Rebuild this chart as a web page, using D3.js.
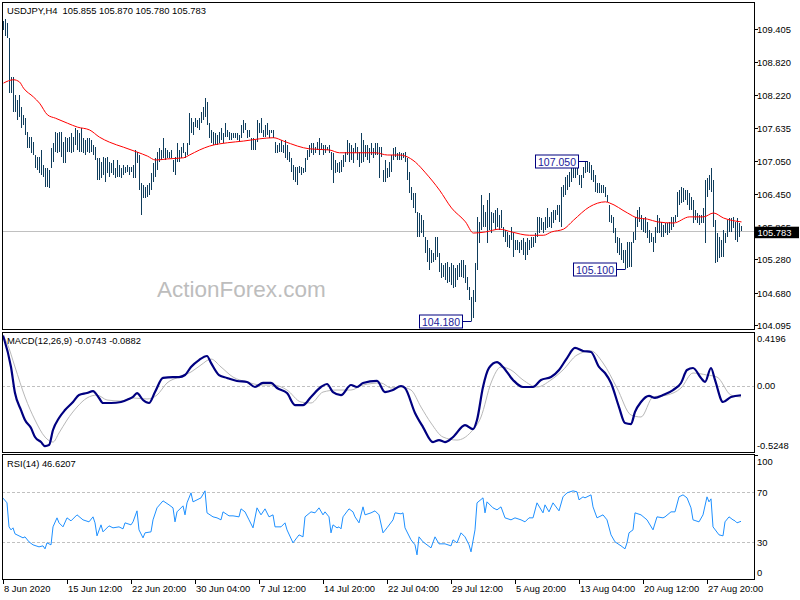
<!DOCTYPE html>
<html><head><meta charset="utf-8">
<script src="https://cdn.jsdelivr.net/npm/d3@7"></script>
<style>
body{margin:0;background:#fff}
svg{display:block}
text{font-family:"Liberation Sans",Arial,sans-serif}
</style>
</head><body><svg id="c" width="800" height="600"></svg>
<script>
// ---------------- DATA ----------------
const symbolTitle = "USDJPY,H4  105.855 105.870 105.780 105.783";
const macdTitle = "MACD(12,26,9) -0.0743 -0.0882";
const rsiTitle = "RSI(14) 46.6207";
const watermark = "ActionForex.com";
const lastPrice = 105.783;

const timeLabels = ["8 Jun 2020","15 Jun 12:00","22 Jun 20:00","30 Jun 04:00","7 Jul 12:00","14 Jul 20:00","22 Jul 04:00","29 Jul 12:00","5 Aug 20:00","13 Aug 04:00","20 Aug 12:00","27 Aug 20:00"];
const timeLabelBar = [0,32,64,96,128,160,192,224,256,288,320,352];

const priceTicks = [109.405,108.820,108.220,107.635,107.050,106.450,105.865,105.280,104.680,104.095];
const macdTicks = ["0.4196","0.00","-0.5248"];
const rsiTicks = [100,70,30,0];
const rsiLevels = [70,30];

const highs = [
109.55,109.59,109.52,109.25,108.55,108.55,108.23,108.14,108.23,108.01,
107.87,107.81,107.56,107.47,107.47,107.38,107.15,107.11,107.11,107.24,
106.97,106.92,106.92,106.88,107.28,107.37,107.56,107.55,107.56,107.56,
107.38,107.47,107.46,107.47,107.55,107.47,107.63,107.60,107.55,107.63,
107.46,107.42,107.46,107.46,107.42,107.33,107.29,107.10,107.10,107.02,
107.11,107.10,107.11,107.02,107.01,107.06,106.92,107.06,106.97,106.92,
106.97,106.94,106.97,106.94,106.94,106.97,107.24,107.20,107.15,106.65,
106.61,106.58,106.61,106.65,106.83,107.01,107.10,107.20,107.28,107.24,
107.46,107.28,107.24,107.20,107.24,107.06,107.11,107.37,107.24,107.29,
107.37,107.20,107.37,107.90,107.81,107.74,107.81,107.78,107.81,107.92,
108.01,108.17,108.10,107.72,107.60,107.56,107.55,107.51,107.56,107.63,
107.55,107.72,107.60,107.56,107.55,107.55,107.55,107.55,107.51,107.69,
107.78,107.72,107.60,107.60,107.46,107.46,107.42,107.78,107.72,107.81,
107.60,107.69,107.72,107.60,107.60,107.60,107.38,107.33,107.37,107.42,
107.33,107.42,107.33,107.20,107.10,106.97,106.94,106.94,106.95,106.94,
106.92,107.10,107.24,107.33,107.37,107.37,107.29,107.38,107.46,107.37,
107.33,107.33,107.29,107.33,107.20,107.19,107.06,107.01,107.02,107.06,
107.15,107.20,107.42,107.37,107.33,107.28,107.37,107.29,107.20,107.55,
107.42,107.33,107.33,107.28,107.37,107.28,107.37,107.37,107.29,107.29,
106.88,107.06,106.92,107.02,107.15,107.28,107.29,107.19,107.20,107.19,
107.19,107.20,107.10,106.85,106.58,106.47,106.47,106.13,106.11,106.07,
105.98,105.68,105.63,105.48,105.45,105.39,105.68,105.68,105.39,105.21,
105.18,105.21,105.23,105.14,105.21,105.18,105.12,105.18,105.21,105.27,
105.27,105.18,104.96,104.78,104.60,104.73,105.21,106.04,105.95,106.43,
106.25,106.13,106.34,106.47,106.13,106.11,106.16,106.20,106.07,106.16,
105.86,105.80,105.77,105.72,105.86,105.75,105.63,105.63,105.59,105.63,
105.66,105.59,105.66,105.63,105.68,105.68,105.75,106.04,106.04,106.02,
105.95,106.04,106.20,106.04,106.13,106.16,106.16,106.25,106.25,106.58,
106.61,106.76,106.79,106.85,106.94,106.97,106.92,106.97,106.79,106.79,
106.94,107.02,107.05,107.02,106.97,106.88,106.79,106.65,106.65,106.61,
106.61,106.58,106.43,106.25,106.07,106.04,105.84,105.68,105.66,105.57,
105.45,105.45,105.59,105.59,105.59,105.77,106.04,106.16,106.22,106.07,
106.02,106.04,105.95,105.80,105.75,105.68,105.86,106.07,106.02,105.95,
105.90,105.93,105.93,105.95,106.04,106.04,106.07,106.49,106.52,106.58,
106.56,106.52,106.52,106.47,106.40,106.34,106.16,106.11,106.07,106.07,
106.20,106.70,106.74,106.79,106.92,106.70,105.98,105.75,105.68,105.63,
105.80,105.75,105.98,106.02,106.02,106.04,105.95,106.02,105.93,105.87];

const lows = [
109.39,109.29,109.25,108.26,108.26,107.92,107.92,107.78,107.83,107.63,
107.69,107.51,107.28,107.28,107.19,107.15,106.92,106.88,106.83,106.79,
106.76,106.58,106.58,106.56,106.92,107.02,107.20,107.19,107.20,107.11,
107.01,107.01,107.20,107.20,107.19,107.20,107.33,107.24,107.20,107.20,
107.19,107.15,107.20,107.19,107.20,107.15,107.06,106.70,106.70,106.74,
106.79,106.67,106.83,106.76,106.83,106.79,106.74,106.76,106.76,106.74,
106.79,106.83,106.85,106.79,106.85,106.74,106.74,107.01,106.52,106.07,
106.38,106.38,106.40,106.43,106.52,106.67,106.76,106.88,107.02,107.06,
107.10,107.06,107.10,107.10,107.10,106.85,106.79,107.02,107.02,107.10,
107.19,107.10,107.15,107.33,107.54,107.51,107.65,107.63,107.60,107.72,
107.78,107.83,107.69,107.46,107.37,107.33,107.33,107.33,107.37,107.42,
107.37,107.47,107.47,107.42,107.42,107.46,107.46,107.42,107.38,107.46,
107.55,107.60,107.46,107.47,107.24,107.24,107.24,107.38,107.55,107.55,
107.47,107.47,107.51,107.46,107.55,107.46,107.19,107.19,107.20,107.20,
107.19,107.10,107.06,107.02,106.85,106.70,106.67,106.61,106.83,106.79,
106.83,106.85,107.06,107.11,107.19,107.15,107.19,107.24,107.15,107.24,
107.15,107.19,107.24,107.19,106.88,106.65,106.83,106.85,106.83,106.85,
106.94,107.02,107.15,107.02,107.06,107.01,107.19,107.06,106.94,107.01,
107.02,107.11,107.06,107.01,107.15,107.10,107.15,107.15,106.74,107.11,
106.67,106.67,106.74,106.76,106.85,107.06,107.11,107.06,107.06,107.06,
107.10,107.02,106.70,106.47,106.34,106.20,106.11,105.68,105.68,105.75,
105.68,105.39,105.23,105.09,105.21,105.23,105.27,105.32,105.05,104.94,
104.96,104.91,104.85,104.87,104.82,104.76,104.78,104.91,104.96,104.96,
104.94,104.85,104.73,104.55,104.18,104.23,104.51,105.09,105.57,105.80,
105.86,105.86,105.57,105.80,105.75,105.93,105.80,105.86,105.80,105.84,
105.68,105.59,105.50,105.48,105.63,105.32,105.45,105.45,105.39,105.45,
105.36,105.27,105.36,105.45,105.48,105.50,105.57,105.68,105.75,105.80,
105.75,105.80,105.84,105.86,105.84,105.93,105.98,106.07,105.95,105.86,
106.40,106.43,106.52,106.58,106.67,106.74,106.74,106.79,106.61,106.56,
106.74,106.83,106.85,106.83,106.70,106.67,106.49,106.47,106.47,106.47,
106.47,106.40,106.31,105.95,105.93,105.75,105.57,105.39,105.36,105.27,
105.21,105.10,105.12,105.14,105.14,105.57,105.63,105.86,105.95,105.80,
105.77,105.75,105.66,105.57,105.59,105.41,105.57,105.75,105.75,105.68,
105.68,105.75,105.72,105.75,105.80,105.86,105.95,106.04,106.25,106.29,
106.31,106.34,106.25,106.16,106.16,105.93,105.98,105.93,105.90,105.93,
105.93,105.57,106.40,106.52,106.49,105.86,105.21,105.23,105.30,105.32,
105.32,105.57,105.68,105.77,105.77,105.84,105.63,105.59,105.68,105.78];

const maBar = [0,5,8,10,15,18,22,26,32,37,43,48,53,60,67,72,76,82,90,93,98,103,112,120,128,135,140,147,153,163,168,178,186,192,198,201,206,211,218,224,231,235,241,248,254,263,270,274,280,285,293,301,303,312,317,322,327,335,343,350,355,360,369];
const maVal = [108.44,108.50,108.46,108.35,108.19,108.08,107.87,107.81,107.72,107.65,107.60,107.47,107.38,107.29,107.20,107.13,107.06,107.08,107.10,107.15,107.24,107.31,107.37,107.40,107.44,107.46,107.40,107.31,107.26,107.24,107.19,107.19,107.19,107.15,107.15,107.13,107.02,106.83,106.52,106.20,105.95,105.75,105.77,105.82,105.77,105.71,105.71,105.77,105.82,105.98,106.22,106.31,106.29,106.11,106.02,106.00,105.95,105.93,106.04,106.04,106.11,106.02,105.95];

const macdBar = [0,4,6,9,11,14,16,19,21,23,25,28,31,35,38,42,45,48,50,54,59,63,65,67,70,73,76,80,85,88,91,94,98,102,104,108,112,117,122,126,130,134,137,142,146,150,154,159,162,165,169,174,177,180,187,191,195,199,201,206,210,215,218,221,225,231,235,237,240,243,247,250,255,260,265,269,274,278,282,286,290,294,298,301,304,308,311,314,316,319,323,326,330,335,339,342,345,349,351,354,356,360,364,369];
const macdVal = [0.400,0.150,-0.057,-0.192,-0.271,-0.335,-0.406,-0.446,-0.478,-0.470,-0.350,-0.255,-0.192,-0.128,-0.073,-0.057,-0.041,-0.096,-0.136,-0.136,-0.128,-0.104,-0.088,-0.057,-0.112,-0.136,-0.049,0.063,0.070,0.070,0.086,0.150,0.205,0.237,0.182,0.086,0.063,0.039,0.031,-0.009,0.023,0.023,-0.017,-0.057,-0.152,-0.152,-0.088,-0.009,0.015,-0.049,-0.073,0.007,-0.009,0.023,0.039,-0.049,-0.033,-0.001,-0.017,-0.215,-0.327,-0.446,-0.430,-0.446,-0.406,-0.311,-0.343,-0.271,-0.009,0.142,0.189,0.150,0.047,-0.009,-0.009,0.047,0.070,0.126,0.221,0.301,0.277,0.269,0.150,0.102,0.023,-0.168,-0.295,-0.303,-0.207,-0.128,-0.080,-0.096,-0.073,-0.033,0.023,0.126,0.142,0.063,0.031,0.142,0.047,-0.128,-0.088,-0.0743];

const signalBar = [0,2,6,11,16,21,25,28,32,37,42,47,52,59,65,72,77,82,88,94,99,104,109,115,122,129,135,142,149,154,160,167,174,180,189,194,199,204,209,214,220,227,234,239,244,249,254,260,267,274,280,287,294,300,307,314,319,325,332,339,345,352,357,364,369];
const signalVal = [0.400,0.340,0.150,-0.088,-0.271,-0.406,-0.446,-0.374,-0.271,-0.168,-0.096,-0.073,-0.112,-0.120,-0.096,-0.104,-0.073,0.023,0.070,0.110,0.166,0.213,0.150,0.070,0.031,0.007,0.007,-0.033,-0.128,-0.136,-0.049,-0.033,-0.033,0.007,0.023,-0.017,-0.009,-0.033,-0.168,-0.295,-0.406,-0.430,-0.366,-0.247,0.023,0.150,0.126,0.047,-0.009,0.047,0.126,0.245,0.277,0.182,-0.017,-0.231,-0.247,-0.088,-0.073,-0.017,0.102,0.086,0.070,-0.073,-0.0882];

const rsiBar = [0,2,3,4,5,6,8,10,11,13,15,18,20,21,22,24,25,27,28,30,32,34,37,40,43,45,46,47,49,50,53,55,58,60,61,64,65,67,68,70,71,74,75,77,80,83,85,86,87,90,91,92,94,95,97,99,101,102,105,107,109,110,113,115,118,119,121,123,125,127,129,131,133,135,136,139,141,142,145,148,150,151,154,156,158,160,161,163,164,165,167,168,169,170,173,175,176,178,180,181,184,186,188,190,192,195,196,199,200,201,204,206,207,208,210,214,216,218,221,224,225,227,229,231,233,234,236,237,240,241,242,245,247,249,251,254,256,259,261,263,265,267,270,271,273,275,278,280,282,285,287,288,290,291,294,295,297,300,302,304,306,309,311,312,313,315,316,319,322,325,327,330,331,334,336,338,340,342,344,345,348,350,352,353,354,355,358,360,361,363,365,366,367,369];
const rsiVal = [65.2,61.4,42.2,39.8,41.4,36.6,35.0,33.4,34.2,30.2,27.8,26.2,27.0,24.6,29.4,27.8,42.2,49.4,45.4,42.2,49.4,47.0,51.8,47.8,46.2,50.2,45.4,35.0,43.8,38.2,43.0,41.4,42.2,40.6,45.4,43.8,46.2,55.0,39.8,33.4,37.4,38.2,47.8,57.4,63.0,59.8,57.4,46.2,54.2,59.0,51.8,61.4,69.4,62.2,63.8,65.4,71.0,53.4,50.2,49.4,47.8,54.2,51.0,51.0,50.2,56.6,54.2,47.8,41.4,57.4,51.8,56.6,50.2,51.8,42.2,42.2,45.4,39.8,29.4,35.8,34.2,50.2,54.2,53.4,57.4,51.8,54.2,50.2,37.4,43.8,41.4,42.2,40.6,50.2,56.6,54.2,50.2,45.4,58.2,51.8,53.4,55.0,51.8,37.4,41.4,47.8,53.4,52.6,53.4,41.4,31.8,27.8,19.8,34.2,30.2,25.4,34.2,28.6,28.6,27.0,31.8,29.4,37.4,34.2,27.8,22.2,39.8,61.4,65.4,53.4,62.2,57.4,55.8,58.2,49.4,47.8,49.4,47.8,46.2,49.4,49.4,61.4,53.4,59.8,54.2,61.4,55.0,66.2,69.4,71.0,70.2,63.8,66.2,65.4,67.8,58.2,49.4,51.8,47.8,35.8,30.2,27.0,24.6,29.4,37.4,39.8,53.4,51.8,47.8,39.8,50.2,49.4,50.2,54.2,54.2,66.2,67.8,65.4,57.4,47.8,46.2,51.8,66.2,62.2,64.6,42.2,35.8,35.0,46.2,50.2,47.8,47.0,45.4,46.6207];

const extremeLabels = ["107.050","105.100","104.180"];
const extremeBar = [292,311,234];
const extremePrice = [107.050,105.100,104.180];

// ---------------- DRAW ----------------
const svg = d3.select("#c");
svg.append("rect").attr("width",800).attr("height",600).attr("fill","#fff");

const L = 2, R = 754;
const P = {top:2, bottom:329};
const M = {top:332, bottom:452};
const S = {top:454, bottom:579};

const x = d3.scaleLinear().domain([0, highs.length-1]).range([3, 3 + 2*(highs.length-1)]);
const yP = d3.scaleLinear().domain([104.095,109.405]).range([325.3,29.3]);
const yM = d3.scaleLinear().domain([-0.5248,0.4196]).range([452,333]);
const yR = d3.scaleLinear().domain([0,100]).range([579.6,454.6]);

const defs = svg.append("defs");
[["cp",P],["cm",M],["cr",S]].forEach(([id,p])=>{
  defs.append("clipPath").attr("id",id).append("rect")
    .attr("x",L+1).attr("y",p.top+1).attr("width",R-L-1).attr("height",p.bottom-p.top-1);
});

const fs = 9.4;

// ---- main panel ----
const gp = svg.append("g").attr("clip-path","url(#cp)");
gp.append("text").attr("x",157).attr("y",297).attr("font-size",22.5)
  .attr("fill","#bdbdbd").text(watermark);
gp.append("line").attr("x1",L).attr("x2",R)
  .attr("y1",Math.round(yP(lastPrice))+0.5).attr("y2",Math.round(yP(lastPrice))+0.5)
  .attr("stroke","#c0c0c0").attr("stroke-width",1);
gp.append("g").selectAll("line").data(highs).join("line")
  .attr("x1",(d,i)=>x(i)+0.5).attr("x2",(d,i)=>x(i)+0.5)
  .attr("y1",d=>yP(d)).attr("y2",(d,i)=>Math.max(yP(lows[i]), yP(d)+1))
  .attr("stroke","#0f3d5c").attr("stroke-width",1).attr("shape-rendering","crispEdges");
gp.append("path").datum(maBar.map((b,i)=>[b,maVal[i]]))
  .attr("d",d3.line().x(d=>x(d[0])+0.5).y(d=>yP(d[1])).curve(d3.curveMonotoneX))
  .attr("fill","none").attr("stroke","#ff0000").attr("stroke-width",1);
extremeLabels.forEach((t,k)=>{
  const bx = x(extremeBar[k]);
  const by = Math.round(yP(extremePrice[k]))+0.5;
  const w = 43, h = 13, right = bx - 9;
  gp.append("line").attr("x1",right).attr("x2",bx+0.5).attr("y1",by).attr("y2",by)
    .attr("stroke","#000080").attr("stroke-width",1);
  gp.append("rect").attr("x",right-w+0.5).attr("y",by-h/2).attr("width",w).attr("height",h)
    .attr("fill","#fff").attr("stroke","#000080").attr("stroke-width",1);
  gp.append("text").attr("x",right-w/2+0.5).attr("y",by+4).attr("text-anchor","middle")
    .attr("font-size",10.5).attr("fill","#1a1a9a").text(t);
});
svg.append("text").attr("x",7).attr("y",14).attr("font-size",fs).attr("fill","#000")
  .attr("xml:space","preserve").style("white-space","pre").text(symbolTitle);

// ---- MACD panel ----
const gm = svg.append("g").attr("clip-path","url(#cm)");
gm.append("line").attr("x1",L).attr("x2",R).attr("y1",Math.round(yM(0))+0.5).attr("y2",Math.round(yM(0))+0.5)
  .attr("stroke","#c0c0c0").attr("stroke-dasharray","3,2");
gm.append("path").datum(signalBar.map((b,i)=>[b,signalVal[i]]))
  .attr("d",d3.line().x(d=>x(d[0])).y(d=>yM(d[1])).curve(d3.curveMonotoneX))
  .attr("fill","none").attr("stroke","#b8b8b8").attr("stroke-width",1);
gm.append("path").datum(macdBar.map((b,i)=>[b,macdVal[i]]))
  .attr("d",d3.line().x(d=>x(d[0])).y(d=>yM(d[1])).curve(d3.curveMonotoneX))
  .attr("fill","none").attr("stroke","#000080").attr("stroke-width",2.2);
svg.append("text").attr("x",7).attr("y",344).attr("font-size",fs).attr("fill","#000").text(macdTitle);

// ---- RSI panel ----
const gr = svg.append("g").attr("clip-path","url(#cr)");
rsiLevels.forEach(v=>{
  gr.append("line").attr("x1",L).attr("x2",R).attr("y1",Math.round(yR(v))+0.5).attr("y2",Math.round(yR(v))+0.5)
    .attr("stroke","#c0c0c0").attr("stroke-dasharray","3,2");
});
gr.append("path").datum(rsiBar.map((b,i)=>[b,rsiVal[i]]))
  .attr("d",d3.line().x(d=>x(d[0])).y(d=>yR(d[1])))
  .attr("fill","none").attr("stroke","#1e90ff").attr("stroke-width",1);
svg.append("text").attr("x",7).attr("y",467).attr("font-size",fs).attr("fill","#000").text(rsiTitle);

// ---- frames ----
[P,M,S].forEach(p=>{
  svg.append("rect").attr("x",L+0.5).attr("y",p.top+0.5).attr("width",R-L).attr("height",p.bottom-p.top)
    .attr("fill","none").attr("stroke","#000").attr("stroke-width",1);
});

// ---- right axes ----
const ax = svg.append("g");
priceTicks.forEach(v=>{
  const yy = Math.round(yP(v))+0.5;
  ax.append("line").attr("x1",R).attr("x2",R+4).attr("y1",yy).attr("y2",yy).attr("stroke","#000");
  ax.append("text").attr("x",757).attr("y",yy+3.4).attr("font-size",fs).text(v.toFixed(3));
});
// current price tag (drawn over the neighbouring tick label, as in the reference)
const cy = yP(lastPrice);
ax.append("rect").attr("x",755).attr("y",cy-4.5).attr("width",44).attr("height",11.5).attr("fill","#000");
ax.append("text").attr("x",757.5).attr("y",cy+4.6).attr("font-size",fs).attr("fill","#fff").text(lastPrice.toFixed(3));

const macdTickY = [338.5, 385.5, 446];
macdTicks.forEach((t,k)=>{
  ax.append("text").attr("x",757).attr("y",macdTickY[k]+3.4).attr("font-size",fs).text(t);
});
const rsiTickY = rsiTicks.map(v=> v===100 ? 461.5 : v===0 ? 573 : yR(v));
rsiTicks.forEach((t,k)=>{
  ax.append("text").attr("x",757).attr("y",rsiTickY[k]+3.4).attr("font-size",fs).text(t);
});
ax.append("line").attr("x1",R).attr("x2",R+4).attr("y1",455.5).attr("y2",455.5).attr("stroke","#000");

// ---- time axis ----
timeLabelBar.forEach((b,k)=>{
  const xx = Math.round(x(b))+0.5;
  ax.append("line").attr("x1",xx).attr("x2",xx).attr("y1",579).attr("y2",584).attr("stroke","#000");
  ax.append("text").attr("x",xx+0.5).attr("y",592).attr("font-size",fs).text(timeLabels[k]);
});
</script>
</body></html>
